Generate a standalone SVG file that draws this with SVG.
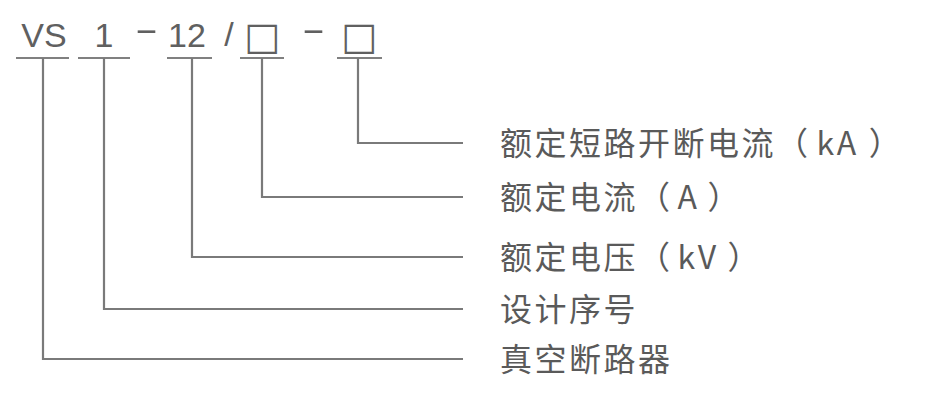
<svg xmlns="http://www.w3.org/2000/svg" width="933" height="415" viewBox="0 0 933 415">
<style>
.code{font-family:"Liberation Sans",Arial,sans-serif;font-size:34px;fill:#606060}
.box{font-family:"DejaVu Sans",sans-serif;font-size:38px;fill:#606060}
.lbl{font-family:"Noto Sans CJK SC","Noto Sans",sans-serif;font-size:32px;letter-spacing:2.5px;fill:#5a5a5a}
.ul{stroke:#808080;stroke-width:2.2;fill:none}
.con{stroke:#7a7a7a;stroke-width:2.2;fill:none}
</style>
<rect width="933" height="415" fill="#ffffff"/>
<g id="code-vs">
<text class="code" x="44" y="47" text-anchor="middle">VS</text>
<line class="ul" x1="16" y1="58" x2="69" y2="58"/>
</g>
<g id="code-1">
<text class="code" x="104" y="47" text-anchor="middle">1</text>
<line class="ul" x1="78" y1="58" x2="130" y2="58"/>
</g>
<text id="sep-1" class="code" x="146.5" y="41" text-anchor="middle" textLength="24" lengthAdjust="spacingAndGlyphs">-</text>
<g id="code-12">
<text class="code" x="187" y="47" text-anchor="middle">12</text>
<line class="ul" x1="167" y1="58" x2="212" y2="58"/>
</g>
<text id="sep-2" class="code" x="229" y="46" text-anchor="middle">/</text>
<g id="code-current">
<text class="box" x="262" y="49" text-anchor="middle">□</text>
<line class="ul" x1="240" y1="58" x2="284" y2="58"/>
</g>
<text id="sep-3" class="code" x="313.5" y="41" text-anchor="middle" textLength="24" lengthAdjust="spacingAndGlyphs">-</text>
<g id="code-breaking">
<text class="box" x="359" y="49" text-anchor="middle">□</text>
<line class="ul" x1="337" y1="58" x2="382" y2="58"/>
</g>
<g id="connectors">
<polyline class="con" points="358,58 358,143 463,143"/>
<polyline class="con" points="262,58 262,197 463,197"/>
<polyline class="con" points="192,58 192,257 463,257"/>
<polyline class="con" points="104,58 104,309 463,309"/>
<polyline class="con" points="43,58 43,359 463,359"/>
</g>
<g id="label-breaking"><text class="lbl" x="500" y="155">额定短路开断电流（<tspan dx="6">kA</tspan><tspan dx="10">）</tspan></text></g>
<g id="label-current"><text class="lbl" x="500" y="209">额定电流（<tspan dx="5">A</tspan><tspan dx="8">）</tspan></text></g>
<g id="label-voltage"><text class="lbl" x="500" y="269">额定电压（<tspan dx="5">kV</tspan><tspan dx="9">）</tspan></text></g>
<g id="label-serial"><text class="lbl" x="500" y="321">设计序号</text></g>
<g id="label-type"><text class="lbl" x="500" y="371">真空断路器</text></g>
</svg>
